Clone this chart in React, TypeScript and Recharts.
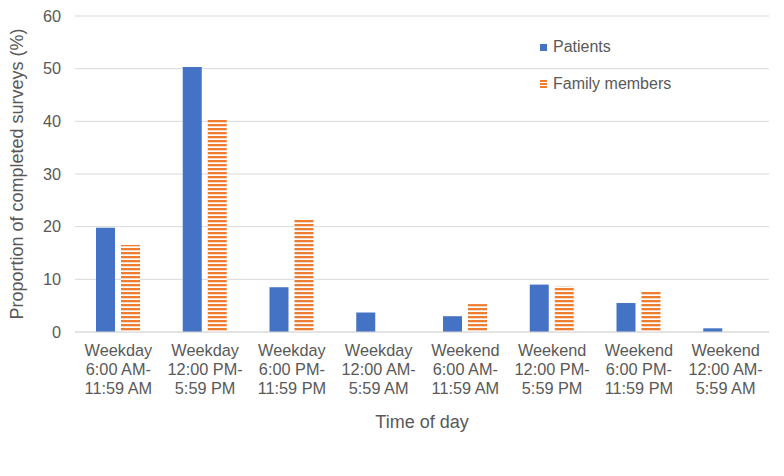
import React from 'react';
import { BarChart, Bar, XAxis, YAxis, CartesianGrid } from 'recharts';

const timeSlots = [
  ['Weekday', '6:00 AM-', '11:59 AM'],
  ['Weekday', '12:00 PM-', '5:59 PM'],
  ['Weekday', '6:00 PM-', '11:59 PM'],
  ['Weekday', '12:00 AM-', '5:59 AM'],
  ['Weekend', '6:00 AM-', '11:59 AM'],
  ['Weekend', '12:00 PM-', '5:59 PM'],
  ['Weekend', '6:00 PM-', '11:59 PM'],
  ['Weekend', '12:00 AM-', '5:59 AM'],
];
const patients = [19.8, 50.3, 8.5, 3.7, 3.0, 9.0, 5.5, 0.7];
const familyMembers = [16.5, 40.3, 21.3, 0, 5.3, 8.7, 7.6, 0];
const yTicks = [0, 10, 20, 30, 40, 50, 60];

const data = timeSlots.map((slot, i) => ({
  slot: slot.join('|'),
  Patients: patients[i],
  'Family members': familyMembers[i],
}));

const FONT = '"Liberation Sans", Arial, sans-serif';
const TEXT = '#595959';
const BLUE = '#4472C4';
const ORANGE = '#ED7D31';

function SlotTick({ x, y, payload }: any) {
  const lines = String(payload.value).split('|');
  return (
    <text x={x} y={y} textAnchor="middle" fill={TEXT} fontSize={16.3} fontFamily={FONT}>
      {lines.map((l, i) => (
        <tspan key={i} x={x} dy={i === 0 ? 16 : 19}>{l}</tspan>
      ))}
    </text>
  );
}

function LegendBox() {
  return (
    <div style={{ position: 'absolute', left: 540, top: 37, fontFamily: FONT, fontSize: 16, color: TEXT }}>
      <div style={{ display: 'flex', alignItems: 'center', height: 20 }}>
        <div style={{ width: 7, height: 7, background: BLUE, marginRight: 6 }} />
        Patients
      </div>
      <div style={{ display: 'flex', alignItems: 'center', height: 20, marginTop: 17 }}>
        <svg width={7} height={8} style={{ marginRight: 6 }}>
          <rect x={0} y={0} width={7} height={2} fill={ORANGE} />
          <rect x={0} y={3} width={7} height={2} fill={ORANGE} />
          <rect x={0} y={6} width={7} height={2} fill={ORANGE} />
        </svg>
        Family members
      </div>
    </div>
  );
}

export default function App() {
  return (
    <div style={{ position: 'absolute', left: 0, top: 0, width: 784, height: 476, background: '#fff' }}>
      <BarChart
        width={784}
        height={476}
        data={data}
        margin={{ top: 16, right: 15, left: 0, bottom: 44 }}
        barSize={19}
        barGap={6}
      >
        <defs>
          <pattern id="stripes" patternUnits="userSpaceOnUse" width={8} height={4}>
            <rect x={0} y={0} width={8} height={4} fill="#ffffff" />
            <rect x={0} y={0} width={8} height={2.3} fill={ORANGE} />
          </pattern>
        </defs>
        <CartesianGrid vertical={false} stroke="#d9d9d9" />
        <XAxis
          dataKey="slot"
          tick={<SlotTick />}
          tickLine={false}
          axisLine={{ stroke: '#d9d9d9' }}
          interval={0}
          height={100}
          label={{ value: 'Time of day', position: 'insideBottom', offset: 4, fill: TEXT, fontSize: 18, fontFamily: FONT }}
        />
        <YAxis
          domain={[0, 60]}
          ticks={yTicks}
          width={75}
          axisLine={false}
          tickLine={false}
          tickSize={0}
          tickMargin={14}
          tick={{ fill: TEXT, fontSize: 16.3, fontFamily: FONT }}
          label={{
            value: 'Proportion of completed surveys (%)',
            angle: -90,
            position: 'insideLeft',
            offset: 17,
            style: { textAnchor: 'middle', fill: TEXT, fontSize: 18, fontFamily: FONT },
          }}
        />
        <Bar dataKey="Patients" fill={BLUE} isAnimationActive={false} />
        <Bar dataKey="Family members" fill="url(#stripes)" isAnimationActive={false} />
      </BarChart>
      <LegendBox />
    </div>
  );
}
